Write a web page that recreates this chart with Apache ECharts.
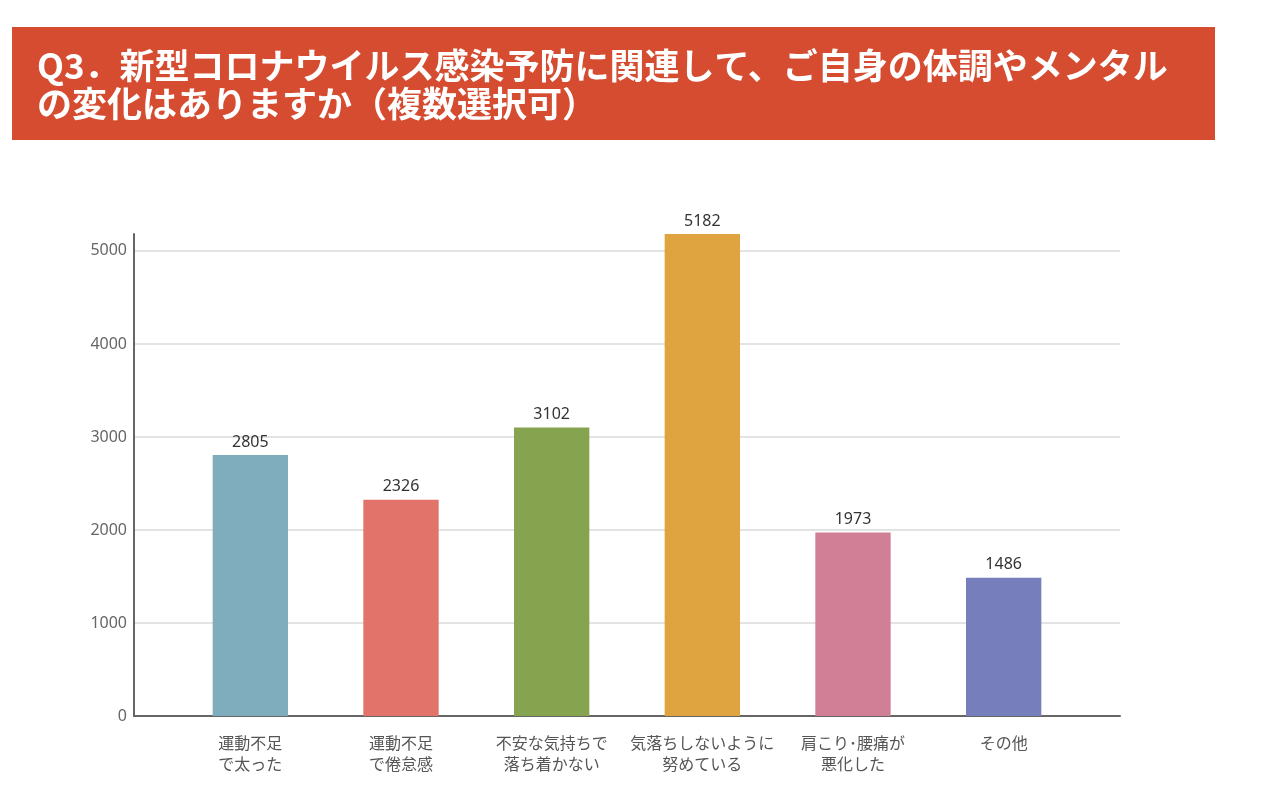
<!DOCTYPE html>
<html><head><meta charset="utf-8">
<script src="https://cdn.jsdelivr.net/npm/echarts@6/dist/echarts.min.js"></script>
<style>html,body{margin:0;padding:0;background:#fff}#c{width:1280px;height:790px}</style>
</head><body><div id="c"></div>
<script>
const titleText = 'Q3．新型コロナウイルス感染予防に関連して、ご自身の体調やメンタル\nの変化はありますか（複数選択可）';
const categories = ['運動不足\nで太った', '運動不足\nで倦怠感', '不安な気持ちで\n落ち着かない', '気落ちしないように\n努めている', '肩こり･腰痛が\n悪化した', 'その他'];
const values = [2805, 2326, 3102, 5182, 1973, 1486];
const barColors = ['#7FADBD', '#E2736A', '#86A44F', '#DFA43F', '#D07F96', '#767EBB'];
const yTicks = [0, 1000, 2000, 3000, 4000, 5000];

const chart = echarts.init(document.getElementById('c'));
const font = '"Noto Sans CJK JP", "Noto Sans", sans-serif';
const yMax = Math.max(...values);
chart.setOption({
  backgroundColor: '#fff',
  animation: false,
  graphic: [{
    type: 'rect', left: 12, top: 27, z: -1,
    shape: { width: 1203, height: 113 },
    style: { fill: '#D54C30' }
  }],
  title: {
    text: titleText, left: 32, top: 42,
    textStyle: { color: '#fff', fontSize: 35, fontWeight: 'bold', fontFamily: font, lineHeight: 38 }
  },
  grid: [
    { left: 134, right: 160, top: 234, bottom: 74 },
    { left: 175, right: 201, top: 234, bottom: 74 }
  ],
  xAxis: [
    { type: 'category', gridIndex: 0, data: [''], axisLine: { lineStyle: { color: '#666', width: 2 } },
      axisTick: { show: false }, axisLabel: { show: false } },
    { type: 'category', gridIndex: 1, data: categories, axisLine: { show: false }, axisTick: { show: false },
      axisLabel: { color: '#555', fontSize: 16, fontFamily: font, lineHeight: 21, margin: 16, interval: 0 } }
  ],
  yAxis: [
    { type: 'value', gridIndex: 0, min: 0, max: yMax, interval: 1000,
      axisLine: { show: true, lineStyle: { color: '#666', width: 2 } }, axisTick: { show: false },
      splitLine: { lineStyle: { color: ['#e3e3e3', '#e3e3e3', '#e3e3e3', '#e3e3e3', '#e3e3e3', '#e3e3e3', 'rgba(0,0,0,0)'], width: 2 } },
      axisLabel: { color: '#666', fontSize: 16, fontFamily: '"Noto Sans", sans-serif', margin: 7,
        showMaxLabel: false, formatter: v => yTicks.includes(v) ? String(v) : '' } },
    { type: 'value', gridIndex: 1, min: 0, max: yMax, interval: 1000, show: false }
  ],
  series: [{
    type: 'bar', xAxisIndex: 1, yAxisIndex: 1, barWidth: '50%',
    data: values.map((v, i) => ({ value: v, itemStyle: { color: barColors[i] } })),
    label: { show: true, position: 'top', color: '#333', fontSize: 16, fontFamily: '"Noto Sans", sans-serif', distance: 5 }
  }]
});
</script></body></html>
